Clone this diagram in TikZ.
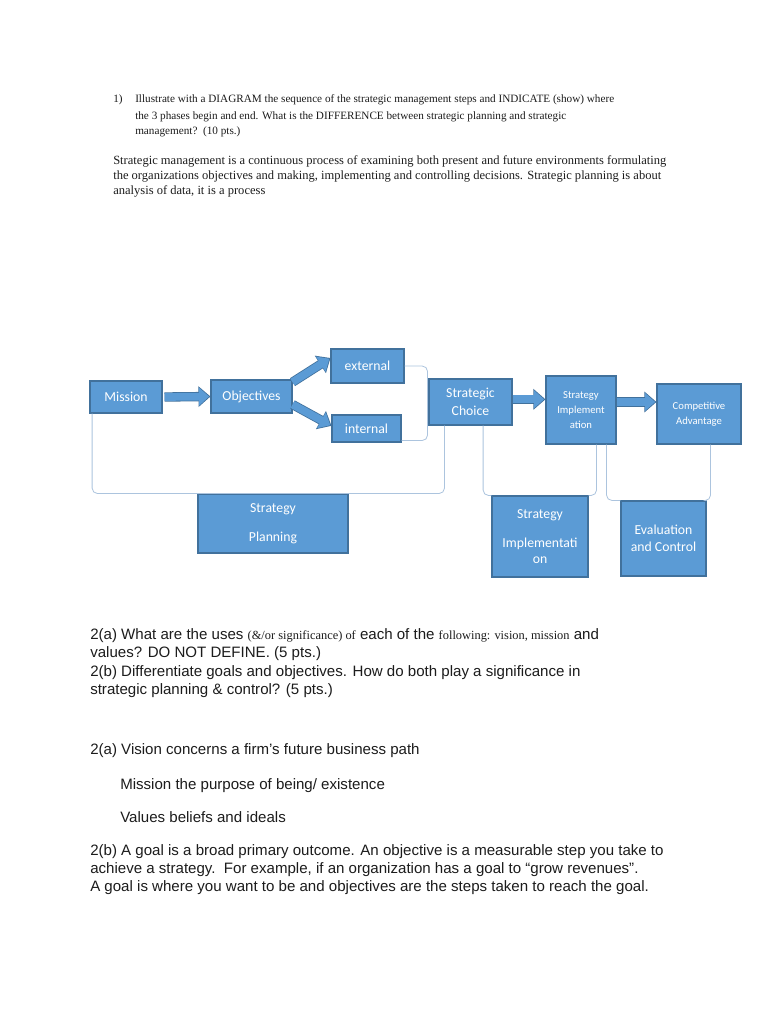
\documentclass[tikz,border=0pt]{standalone}
\usepackage{fontspec}
\setmainfont{Liberation Sans}
\newfontfamily\tnrfont{Liberation Serif}
\newfontfamily\boxfont{Carlito}
\usetikzlibrary{arrows.meta}

\definecolor{boxblue}{RGB}{91,155,213}
\definecolor{boxedge}{RGB}{65,113,156}
\definecolor{bracket}{RGB}{172,196,222}
\definecolor{ink}{RGB}{28,28,28}

\tikzset{
  box/.style={draw=boxedge, fill=boxblue, line width=0.8pt, text=white, inner sep=0pt,
    align=center, font=\boxfont\fontsize{10.3}{12}\selectfont},
  smallbox/.style={box, font=\boxfont\fontsize{8}{11}\selectfont},
  brace/.style={draw=bracket, line width=0.6pt, rounded corners=4pt},
  blockarrow/.style={line width=5.8pt, draw=boxblue, shorten >=1pt,
    -{Triangle[length=7.6pt, width=13pt]},
    preaction={draw=boxedge, line width=7pt, shorten >=0pt, -{Triangle[length=9pt, width=15pt]}}},
  qline/.style={anchor=base west, inner sep=0pt, text=ink, font=\tnrfont\fontsize{8.4}{10}\selectfont},
  pline/.style={qline, font=\tnrfont\fontsize{9.4}{11}\selectfont},
  aline/.style={anchor=base west, inner sep=0pt, text=ink, font=\fontsize{11.3}{13}\selectfont}
}
\newcommand{\tnrsmall}[1]{{\tnrfont\fontsize{9.3}{11}\selectfont #1}}

\begin{document}
\begin{tikzpicture}[x=0.75pt, y=-0.75pt]
\useasboundingbox (0,0) rectangle (768,1024);
\fill[white] (0,0) rectangle (768,1024);

% question 1
\node[qline] (q1) at (113,103) {1)};
\node[qline] (q1a) at (135,103) {Illustrate with a DIAGRAM the sequence of the strategic management steps and INDICATE (show) where};
\node[qline] (q1b) at (135,119) {the 3 phases begin and end. What is the DIFFERENCE between strategic planning and strategic};
\node[qline] (q1c) at (135,134) {management?\ \ (10 pts.)};
\node[pline] (a1a) at (113,164) {Strategic management is a continuous process of examining both present and future environments formulating};
\node[pline] (a1b) at (113,179) {the organizations objectives and making, implementing and controlling decisions. Strategic planning is about};
\node[pline] (a1c) at (113,194) {analysis of data, it is a process};

% diagram boxes
\node[box, minimum width=54pt, minimum height=24pt] (mission) at (126,397) {Mission};
\node[box, minimum width=60.75pt, minimum height=24.75pt] (objectives) at (251.5,396.5) {Objectives};
\node[box, minimum width=54.75pt, minimum height=25.5pt] (external) at (367.5,366) {external};
\node[box, minimum width=51.75pt, minimum height=20.25pt] (internal) at (366.5,428.5) {internal};
\node[box, minimum width=62.25pt, minimum height=34.5pt] (choice) at (470.5,402) {Strategic\\[1.5pt]Choice};
\node[smallbox, minimum width=52.5pt, minimum height=51pt] (implement) at (581,410) {Strategy\\Implement\\ation};
\node[smallbox, minimum width=63pt, minimum height=45pt] (advantage) at (699,414) {Competitive\\Advantage};
\node[box, minimum width=112.5pt, minimum height=44.25pt] (planning) at (273,523.5) {Strategy\\[10pt]Planning};
\node[box, minimum width=72pt, minimum height=60.75pt] (implement2) at (540,536.5) {Strategy\\[10pt]Implementati\\on};
\node[box, minimum width=63.75pt, minimum height=56.25pt] (evaluation) at (663.5,538.5) {Evaluation\\[1pt]and Control};

% block arrows
\draw[blockarrow] ([xshift=1.5pt]mission.east) -- (objectives.west);
\draw[blockarrow] ([yshift=-2pt]objectives.north east) -- ([yshift=6pt]external.west);
\draw[blockarrow] ([yshift=-6pt]objectives.east) -- ([yshift=2pt]internal.west);
\draw[blockarrow] ([yshift=2pt]choice.east) -- ([yshift=2pt]choice.east -| implement.west);
\draw[blockarrow] ([yshift=6pt]implement.east) -- ([yshift=6pt]implement.east -| advantage.west);

% phase brackets
\draw[brace] (external.east) -- ++(23,0) |- ([yshift=1.5pt]internal.south east);
\draw[brace] ([xshift=2pt]mission.south west) -- ++(0,80) -| ([xshift=12pt]choice.south west);
\draw[brace] ([xshift=41pt]choice.south west) |- (implement2.north west);
\draw[brace] ([xshift=-15pt]implement.south east) |- (implement2.north east);
\draw[brace] ([xshift=-7.5pt]implement.south east) |- (evaluation.north west);
\draw[brace] ([xshift=-23.25pt]advantage.south east) |- (evaluation.north east);

% question 2
\node[aline] (q2a) at (90,639) {2(a) What are the uses \tnrsmall{(\&/or significance) of} each of the \tnrsmall{following: vision, mission} and};
\node[aline] (q2b) at (90,657) {values? DO NOT DEFINE. (5 pts.)};
\node[aline] (q2c) at (90,676) {2(b) Differentiate goals and objectives. How do both play a significance in};
\node[aline] (q2d) at (90,694) {strategic planning \& control? (5 pts.)};
\node[aline] (a2a) at (90,754) {2(a) Vision concerns a firm's future business path};
\node[aline] (a2b) at (120,789) {Mission the purpose of being/ existence};
\node[aline] (a2c) at (120,822) {Values beliefs and ideals};
\node[aline] (a2d) at (90,855) {2(b) A goal is a broad primary outcome. An objective is a measurable step you take to};
\node[aline] (a2e) at (90,873) {achieve a strategy.\ \ For example, if an organization has a goal to ``grow revenues''.};
\node[aline] (a2f) at (90,891) {A goal is where you want to be and objectives are the steps taken to reach the goal.};
\end{tikzpicture}
\end{document}
